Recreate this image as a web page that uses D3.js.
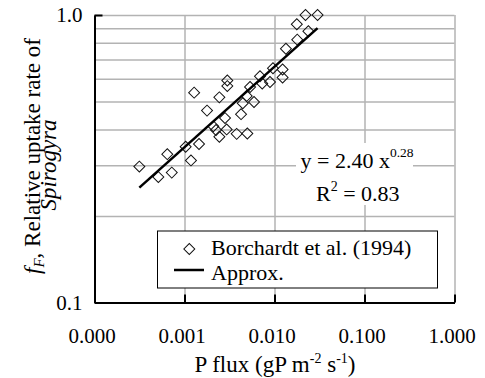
<!DOCTYPE html>
<html>
<head>
<meta charset="utf-8">
<script src="https://cdn.jsdelivr.net/npm/d3@7"></script>
<style>
  html, body { margin: 0; padding: 0; background: #fff; }
  svg text { font-family: "Liberation Serif", "DejaVu Serif", "Times New Roman", Times, serif !important; fill: #000; }
  .grid line { stroke: #b3b3b3; stroke-width: 1.5; }
  .grid path { display: none; }
  .axis path, .axis line { stroke: #000; stroke-width: 2; }
  .axis text { font-size: 21px; }
</style>
</head>
<body>
<div class="chart"><svg></svg></div>
<script>
'use strict';

// datos (flujo P vs tasa relativa)
var pFlux = [0.000315, 0.000512, 0.000644, 0.000722, 0.00103, 0.00118, 0.00128, 0.00145,
    0.00178, 0.00209, 0.00224, 0.00244, 0.00244, 0.00282, 0.00299, 0.00299, 0.00294,
    0.0038, 0.00425, 0.00491, 0.00444, 0.00499, 0.00535, 0.00592, 0.0069, 0.00731,
    0.00891, 0.00962, 0.0123, 0.0123, 0.0134, 0.0179, 0.0177, 0.0238, 0.0221, 0.0301];
var uptake = [0.297, 0.273, 0.328, 0.283, 0.348, 0.312, 0.537, 0.356,
    0.465, 0.41, 0.398, 0.517, 0.377, 0.438, 0.592, 0.566, 0.4,
    0.386, 0.452, 0.523, 0.493, 0.387, 0.562, 0.498, 0.612, 0.578,
    0.585, 0.653, 0.646, 0.606, 0.763, 0.821, 0.929, 0.878, 1.0, 1.0];

// ajuste potencial y = a x^b
var fitA = 2.40;
var fitB = 0.28;
var fitR2 = 0.83;

var xTicks = [0.0001, 0.001, 0.01, 0.1, 1];
var yTicks = [0.1, 1];
var yGrid = [0.2, 0.3, 0.4, 0.5, 0.6, 0.7, 0.8, 0.9, 1];
var seriesNames = ['Borchardt et al. (1994)', 'Approx.'];

function powerChart() {
    var W = 485, H = 378;
    var margin = { top: 15, right: 30.5, bottom: 75.5, left: 94.5 };
    var width = W - margin.left - margin.right;
    var height = H - margin.top - margin.bottom;

    var svg = d3.select('.chart svg').attr('width', W).attr('height', H);
    var g = svg.append('g').attr('transform', 'translate(' + margin.left + ',' + margin.top + ')');

    var x = d3.scaleLog().domain([0.0001, 1]).range([0, width]);
    var y = d3.scaleLog().domain([0.1, 1]).range([height, 0]);

    //Rejilla
    g.append('g').attr('class', 'grid')
        .call(d3.axisLeft(y).tickValues(yGrid).tickSize(-width).tickFormat(''));
    g.append('g').attr('class', 'grid')
        .attr('transform', 'translate(0,' + height + ')')
        .call(d3.axisBottom(x).tickValues(xTicks.slice(1)).tickSize(height).tickSizeOuter(0).tickFormat(''))
        .selectAll('line').attr('y2', -height);

    //Caja de la ecuacion (tapa la rejilla)
    var eq = svg.append('g');
    eq.append('rect').attr('x', 296).attr('y', 143).attr('width', 117).attr('height', 62).attr('fill', '#fff');
    var t1 = eq.append('text').attr('x', 300.5).attr('y', 168.3).attr('font-size', 22);
    t1.append('tspan').text('y = ' + fitA.toFixed(2) + ' x');
    t1.append('tspan').attr('font-size', 13.5).attr('dy', -11).text(String(fitB));
    var t2 = eq.append('text').attr('x', 316).attr('y', 201).attr('font-size', 22);
    t2.append('tspan').text('R');
    t2.append('tspan').attr('font-size', 14).attr('dy', -10).text('2');
    t2.append('tspan').attr('dy', 10).text(' = ' + fitR2.toFixed(2));

    //Puntos
    var pts = pFlux.map(function (d, i) { return { x: d, y: uptake[i] }; });
    var diamond = d3.symbol().type(d3.symbolSquare).size(60);
    g.selectAll('.pt').data(pts).enter().append('path')
        .attr('class', 'pt')
        .attr('d', diamond)
        .attr('transform', function (d) { return 'translate(' + x(d.x) + ',' + y(d.y) + ') rotate(45)'; })
        .attr('fill', 'none').attr('stroke', '#111').attr('stroke-width', 1);

    //Linea de tendencia
    var xr = d3.extent(pFlux);
    var trend = [xr[0], xr[1]].map(function (v) { return [v, fitA * Math.pow(v, fitB)]; });
    g.append('path')
        .attr('d', d3.line().x(function (d) { return x(d[0]); }).y(function (d) { return y(d[1]); })(trend))
        .attr('stroke', '#000').attr('stroke-width', 2.5).attr('fill', 'none');

    //Ejes
    var ax = g.append('g').attr('class', 'axis').attr('transform', 'translate(0,' + height + ')')
        .call(d3.axisBottom(x).tickValues(xTicks).tickFormat(d3.format('.3f')).tickSizeInner(-8).tickSizeOuter(0));
    ax.selectAll('text').attr('y', 40).attr('dy', 0).attr('dx', -3);

    var ay = g.append('g').attr('class', 'axis')
        .call(d3.axisLeft(y).tickValues(yTicks).tickFormat(d3.format('.1f')).tickSizeInner(-8).tickSizeOuter(0));
    ay.selectAll('text').attr('x', -12);

    //Titulos
    var xt = svg.append('text').attr('x', 275).attr('y', 372).attr('text-anchor', 'middle').attr('font-size', 23);
    xt.append('tspan').text('P flux (gP m');
    xt.append('tspan').attr('font-size', 14).attr('dy', -9).text('-2');
    xt.append('tspan').attr('dy', 9).text(' s');
    xt.append('tspan').attr('font-size', 14).attr('dy', -9).text('-1');
    xt.append('tspan').attr('dy', 9).text(')');

    var yt = svg.append('text').attr('transform', 'translate(40,156) rotate(-90)')
        .attr('text-anchor', 'middle').attr('font-size', 23);
    yt.append('tspan').attr('font-style', 'italic').text('f');
    yt.append('tspan').attr('font-style', 'italic').attr('font-size', 15).attr('dy', 4).text('F');
    yt.append('tspan').attr('dy', -4).text(', Relative uptake rate of');
    svg.append('text').attr('transform', 'translate(56,165) rotate(-90)')
        .attr('text-anchor', 'middle').attr('font-size', 23).attr('font-style', 'italic')
        .text('Spirogyra');

    //Leyenda
    var lg = svg.append('g');
    lg.append('rect').attr('x', 157.5).attr('y', 231).attr('width', 280).attr('height', 57)
        .attr('fill', '#fff').attr('stroke', '#000').attr('stroke-width', 1);
    lg.append('path').attr('d', diamond).attr('transform', 'translate(189.3,249) rotate(45)')
        .attr('fill', 'none').attr('stroke', '#111').attr('stroke-width', 1);
    lg.append('line').attr('x1', 174).attr('x2', 204).attr('y1', 270).attr('y2', 270)
        .attr('stroke', '#000').attr('stroke-width', 2.5);
    lg.selectAll('.lt').data(seriesNames).enter().append('text')
        .attr('x', 211).attr('y', function (d, i) { return i ? 279.5 : 255; })
        .attr('font-size', 22).text(function (d) { return d; });
}

powerChart();
</script>
</body>
</html>
